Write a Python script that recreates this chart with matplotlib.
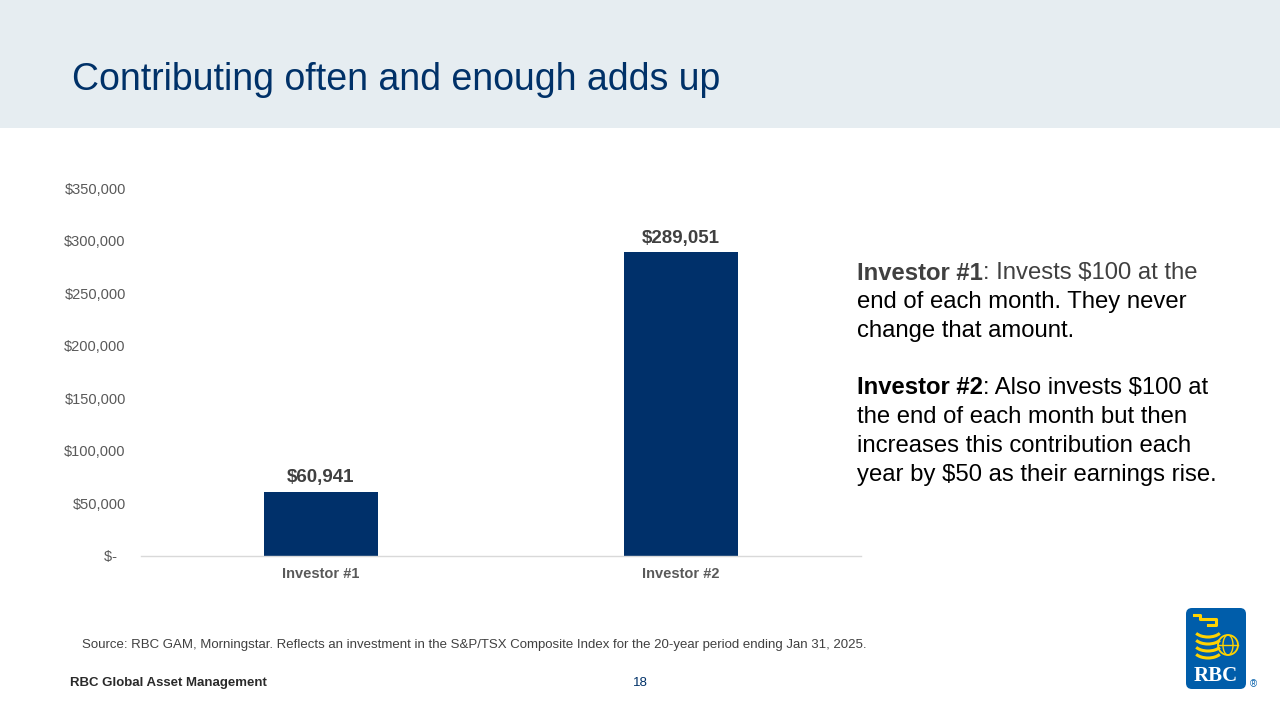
import matplotlib
matplotlib.use("Agg")
import matplotlib.pyplot as plt
from matplotlib.patches import Rectangle, FancyBboxPatch, Arc, Circle
from matplotlib.ticker import FuncFormatter

plt.rcParams["font.family"] = ["Liberation Sans", "DejaVu Sans"]

# data
investors = ["Investor #1", "Investor #2"]
ending_values = [60941, 289051]
y_ticks = [0, 50000, 100000, 150000, 200000, 250000, 300000, 350000]

NAVY = "#003168"
BAR = "#00306A"
W, H = 1280, 720

fig = plt.figure(figsize=(12.8, 7.2), dpi=100)
fig.patch.set_facecolor("white")

# header band
fig.patches.append(Rectangle((0, 1 - 128 / H), 1, 128 / H, transform=fig.transFigure,
                             facecolor="#E6EDF1", edgecolor="none", zorder=0))
fig.text(72 / W, 1 - 80 / H, "Contributing often and enough adds up", fontsize=27,
         color=NAVY, va="center", ha="left")

# chart
ax = fig.add_axes([141 / W, 1 - 556 / H, 720 / W, 368 / H])
x = range(len(investors))
bars = ax.bar(x, ending_values, width=0.314, color=BAR, zorder=2)
for b, v in zip(bars, ending_values):
    ax.annotate(f"${v:,}", (b.get_x() + b.get_width() / 2, v), xytext=(0, 4),
                textcoords="offset points", ha="center", va="bottom",
                fontsize=13.5, fontweight="bold", color="#404040")

ax.set_xlim(-0.5, 1.5)
ax.set_ylim(0, 350000)
ax.set_yticks(y_ticks)
ax.yaxis.set_major_formatter(FuncFormatter(lambda v, p: "$-  " if v == 0 else f"${v:,.0f}"))
ax.set_xticks(list(x))
ax.set_xticklabels(investors, fontweight="bold")
ax.tick_params(axis="y", length=0, pad=11, labelsize=10.5, labelcolor="#595959")
ax.tick_params(axis="x", length=0, pad=8, labelsize=10.5, labelcolor="#595959")
for s in ["top", "right", "left"]:
    ax.spines[s].set_visible(False)
ax.spines["bottom"].set_color("#D9D9D9")
ax.spines["bottom"].set_linewidth(1.0)


# right-hand description, mixed styles per line
def rich_line(y_px, pieces, x_px=857, size=17.2):
    r = fig.canvas.get_renderer()
    xf = x_px / W
    for txt, weight, color in pieces:
        t = fig.text(xf, 1 - y_px / H, txt, fontsize=size, fontweight=weight,
                     color=color, va="center", ha="left")
        bb = t.get_window_extent(renderer=r)
        xf += bb.width / fig.bbox.width


rich_line(273, [("Investor #1", "bold", "#404040"), (": Invests $100 at the", "normal", "#404040")])
rich_line(302, [("end of each month. They never", "normal", "black")])
rich_line(331, [("change that amount.", "normal", "black")])
rich_line(388, [("Investor #2", "bold", "black"), (": Also invests $100 at", "normal", "black")])
rich_line(417, [("the end of each month but then", "normal", "black")])
rich_line(446, [("increases this contribution each", "normal", "black")])
rich_line(475, [("year by $50 as their earnings rise.", "normal", "black")])

# footer
fig.text(82 / W, 1 - 645 / H,
         "Source: RBC GAM, Morningstar. Reflects an investment in the S&P/TSX Composite Index for the 20-year period ending Jan 31, 2025.",
         fontsize=9.5, color="#404040", va="center", ha="left")
fig.text(70 / W, 1 - 683 / H, "RBC Global Asset Management", fontsize=9.5,
         fontweight="bold", color="#2a2a2a", va="center", ha="left")
fig.text(640 / W, 1 - 683 / H, "18", fontsize=9.5, color=NAVY, va="center", ha="center")

# simplified RBC logo
lx, ly, lw, lh = 1186 / W, 1 - 689 / H, 60 / W, 81 / H
lax = fig.add_axes([lx, ly, lw, lh])
lax.set_xlim(0, 60)
lax.set_ylim(0, 81)
lax.axis("off")
lax.add_patch(FancyBboxPatch((0, 0), 60, 81, boxstyle="round,pad=0,rounding_size=6",
                             facecolor="#005DAA", edgecolor="none"))
gold = "#FFD200"
lax.add_patch(Circle((42, 44), 10, fill=False, edgecolor=gold, lw=1.3))
lax.add_patch(Arc((42, 44), 10, 20, edgecolor=gold, lw=1.0))
lax.plot([32, 52], [44, 44], color=gold, lw=1.0)
for k in range(4):
    lax.add_patch(Arc((22, 60 - k * 7), 28, 16, theta1=200, theta2=340,
                      edgecolor=gold, lw=2.2))
lax.plot([8, 14, 14, 30, 30, 22], [74, 74, 70, 70, 64, 64], color=gold, lw=2.2)
lax.text(30, 13, "RBC", fontsize=15, fontweight="bold", color="white",
         ha="center", va="center", family="Liberation Serif")
fig.text(1253 / W, 1 - 684 / H, "®", fontsize=7, color="#005DAA", ha="center", va="center")

fig.savefig("out.png", dpi=100)
